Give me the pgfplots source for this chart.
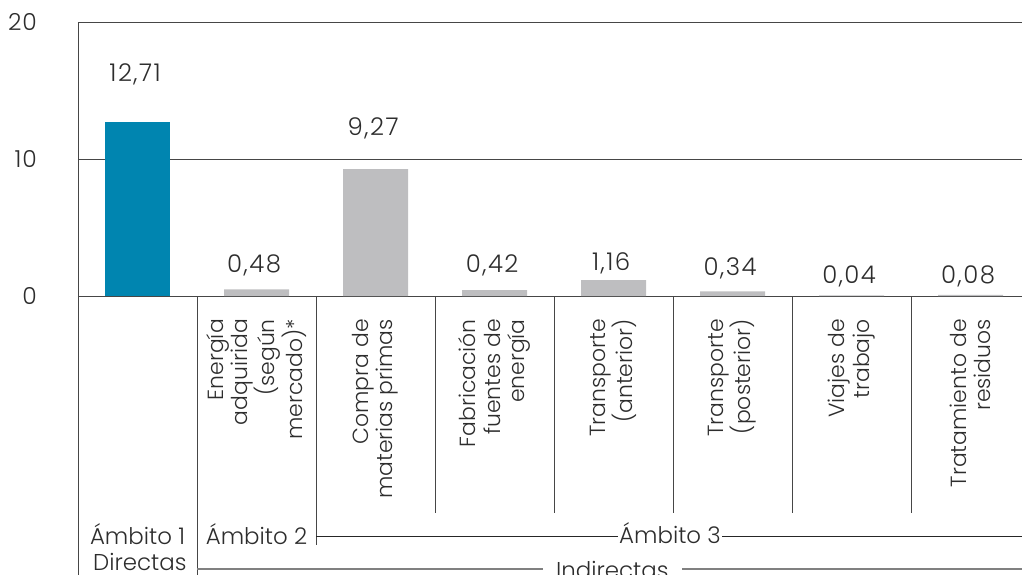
\documentclass[border=0pt]{standalone}
\usepackage{fontspec}
\setmainfont{Poppins Light}
\usepackage{pgfplots}
\usepackage{pgfplotstable}
\pgfplotsset{compat=1.18}
\definecolor{cblue}{RGB}{0,133,176}
\definecolor{cgray}{RGB}{190,190,192}
\definecolor{cline}{RGB}{70,70,70}
\definecolor{ctext}{RGB}{45,45,45}
\pgfplotstableread{
x y
1 0.48
2 9.27
3 0.42
4 1.16
5 0.34
6 0.04
7 0.08
}\grayvals
\pgfplotstableread{
x y lab
-0.02 16.2 12,71
0.98 2.2 0,48
1.98 12.2 9,27
2.98 2.25 0,42
3.98 2.4 1,16
4.98 2.0 0,34
5.98 1.46 0,04
6.98 1.4 0,08
}\labvals
\newcommand{\bigf}{\fontsize{23}{25}\selectfont}
\newcommand{\valf}{\fontsize{24.5}{26}\selectfont\addfontfeatures{LetterSpace=6}}
\newcommand{\catf}{\fontsize{22}{24.5}\selectfont}
\begin{document}
\begin{tikzpicture}
\begin{axis}[
  at={(0,0)}, anchor=south west,
  x=119bp, y=13.7bp,
  xmin=-0.5, xmax=7.5, ymin=0, ymax=20,
  axis line style={draw=none},
  clip=false,
  major tick length=0pt,
  ytick={0,10,20},
  ymajorgrids,
  grid style={cline, line width=0.9bp},
  ytick pos=left,
  yticklabel style={font=\fontsize{23.5}{25}\selectfont\addfontfeatures{LetterSpace=4}, text=ctext, inner sep=0pt, anchor=east, xshift=-41bp},
  /pgf/number format/assume math mode=true,
  xtick={0,1,2,3,4,5,6,7},
  xticklabels={{}, {Energía\\adquirida\\(según\\mercado)*}, {Compra de\\materias primas}, {Fabricación\\fuentes de\\energía}, {Transporte\\(anterior)}, {Transporte\\(posterior)}, {Viajes de\\trabajo}, {Tratamiento de\\residuos}},
  xtick pos=bottom,
  xticklabel style={yshift=-23bp, rotate=90, anchor=east, align=right, inner sep=0pt, font=\catf, text=ctext},
]
\addplot[ybar, bar width=65bp, bar shift=0pt, fill=cblue, draw=none] coordinates {(0,12.71)};
\addplot[ybar, bar width=65bp, bar shift=0pt, fill=cgray, draw=none] table[x=x, y=y] {\grayvals};
\addplot[draw=none, mark=none, nodes near coords, point meta=explicit symbolic,
  every node near coord/.append style={anchor=center, inner sep=0pt, font=\valf, text=ctext}]
  table[x=x, y=y, meta=lab] {\labvals};
% structure lines
\draw[cline, line width=0.9bp] (axis cs:-0.5,20) -- (axis cs:-0.5,-21);
\draw[cline, line width=0.9bp] (axis cs:0.5,0) -- (axis cs:0.5,-21);
\draw[cline, line width=0.9bp] (axis cs:1.5,0) -- (axis cs:1.5,-18.17);
\draw[cline, line width=0.9bp] (axis cs:2.5,0) -- (axis cs:2.5,-15.84);
\draw[cline, line width=0.9bp] (axis cs:3.5,0) -- (axis cs:3.5,-15.84);
\draw[cline, line width=0.9bp] (axis cs:4.5,0) -- (axis cs:4.5,-15.84);
\draw[cline, line width=0.9bp] (axis cs:5.5,0) -- (axis cs:5.5,-15.84);
\draw[cline, line width=0.9bp] (axis cs:6.5,0) -- (axis cs:6.5,-15.84);
\draw[black!85, line width=0.9bp] (axis cs:1.5,-17.52) -- (axis cs:7.5,-17.52);
\draw[black!50, line width=1.1bp] (axis cs:0.5,-19.93) -- (axis cs:7.5,-19.93);
\node[fill=white, inner xsep=1.5bp, inner ysep=1bp, anchor=base, font=\bigf, text=ctext] at (axis cs:4.475,-18.03) {Ámbito 3};
\node[fill=white, inner xsep=13bp, inner ysep=1bp, anchor=base, font=\bigf, text=ctext] at (axis cs:3.99,-20.6) {Indirectas};
\node[anchor=base, inner sep=0pt, font=\bigf, text=ctext] at (axis cs:0,-18.17) {Ámbito 1};
\node[anchor=base, inner sep=0pt, font=\bigf, text=ctext] at (axis cs:0.02,-20.0) {Directas};
\node[anchor=base, inner sep=0pt, font=\bigf, text=ctext] at (axis cs:1,-18.17) {Ámbito 2};
\end{axis}
\pgfresetboundingbox
\useasboundingbox (-78bp,-279bp) rectangle (944bp,296bp);
\end{tikzpicture}
\end{document}
